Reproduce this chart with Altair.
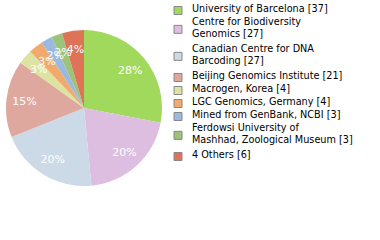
import altair as alt
import pandas as pd

labels = [
    "University of Barcelona [37]",
    "Centre for Biodiversity\nGenomics [27]",
    "Canadian Centre for DNA\nBarcoding [27]",
    "Beijing Genomics Institute [21]",
    "Macrogen, Korea [4]",
    "LGC Genomics, Germany [4]",
    "Mined from GenBank, NCBI [3]",
    "Ferdowsi University of\nMashhad, Zoological Museum [3]",
    "4 Others [6]",
]
values = [37, 27, 27, 21, 4, 4, 3, 3, 6]
colors = ["#a0d95c", "#ddbde0", "#ccd9e6", "#dea89e", "#dde3a0",
          "#f0aa6e", "#9ab9e0", "#9dc37a", "#de7358"]

total = sum(values)
pct = [f"{int(v * 100 // total)}%" for v in values]

# legend layout derived from line counts
nlines = [lab.count("\n") + 1 for lab in labels]
first_y, sq_y = [], []
cur = 9.0
for n in nlines:
    first_y.append(cur)
    sq_y.append(cur + (n - 1) * 11.7 / 2 + 1.5)
    cur += 13 + 14 * (n - 1)

df = pd.DataFrame({
    "cat": labels, "value": values, "pct": pct, "idx": list(range(len(labels))),
    "ty": first_y, "sy": sq_y,
})

color = alt.Color("cat:N", scale=alt.Scale(domain=labels, range=colors), legend=None)
ypix = alt.Scale(domain=[0, 240], range=[0, 240])

base = alt.Chart(df)

pie = base.mark_arc(outerRadius=78).encode(
    theta=alt.Theta("value:Q", stack=True),
    color=color,
    order=alt.Order("idx:Q"),
    x=alt.value(84), y=alt.value(108),
)

plabels = base.mark_text(radius=60, color="white", font="DejaVu Sans", fontSize=11).encode(
    theta=alt.Theta("value:Q", stack=True),
    text="pct:N",
    order=alt.Order("idx:Q"),
    x=alt.value(84), y=alt.value(109),
)

squares = base.mark_square(size=64, stroke="#888888", strokeWidth=1, opacity=1).encode(
    x=alt.value(178),
    y=alt.Y("sy:Q", scale=ypix, axis=None),
    color=color,
)

ltext = base.mark_text(align="left", baseline="middle", lineBreak="\n", lineHeight=11.7,
                       font="DejaVu Sans", fontSize=9.7, color="#000000").encode(
    x=alt.value(192),
    y=alt.Y("ty:Q", scale=ypix, axis=None),
    text="cat:N",
)

chart = alt.layer(pie, plabels, squares, ltext).properties(
    width=380, height=240, padding=0, autosize=alt.AutoSizeParams(type="none")
).configure_view(stroke=None)

chart.save("out.html", embed_options={"renderer": "svg", "actions": False})
